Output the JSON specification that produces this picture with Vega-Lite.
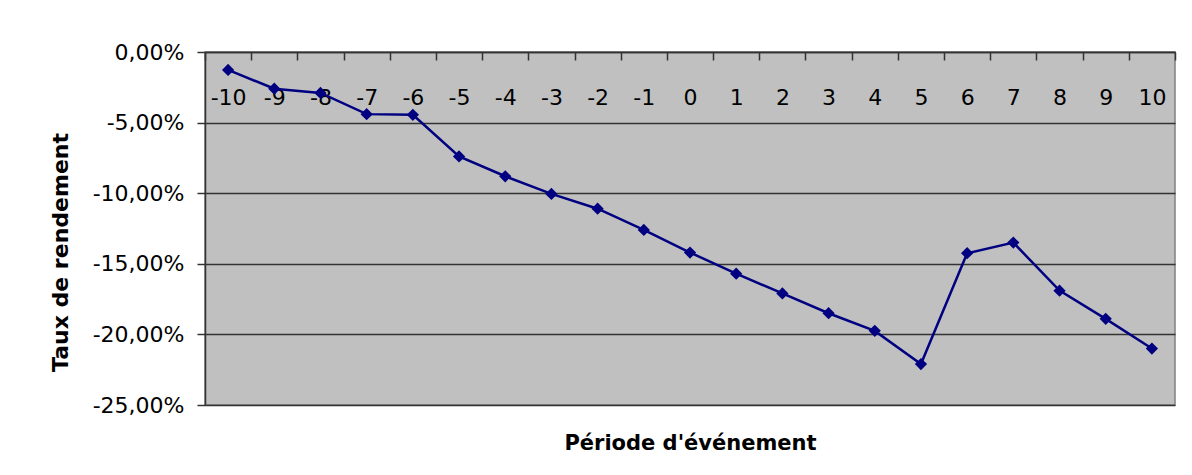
{
  "$schema": "https://vega.github.io/schema/vega-lite/v6.json",
  "width": 970,
  "height": 353,
  "autosize": {"type": "none"},
  "padding": {"left": 205, "top": 52, "right": 17, "bottom": 70},
  "background": "white",
  "config": {
    "font": "DejaVu Sans",
    "view": {"fill": "#c0c0c0", "stroke": "#808080", "strokeWidth": 1.5}
  },
  "data": {
    "values": [
      {"periode": "-10", "taux": -0.0127},
      {"periode": "-9", "taux": -0.026},
      {"periode": "-8", "taux": -0.029},
      {"periode": "-7", "taux": -0.044},
      {"periode": "-6", "taux": -0.0445},
      {"periode": "-5", "taux": -0.074},
      {"periode": "-4", "taux": -0.088},
      {"periode": "-3", "taux": -0.1005},
      {"periode": "-2", "taux": -0.111},
      {"periode": "-1", "taux": -0.126},
      {"periode": "0", "taux": -0.142},
      {"periode": "1", "taux": -0.157},
      {"periode": "2", "taux": -0.171},
      {"periode": "3", "taux": -0.185},
      {"periode": "4", "taux": -0.1975},
      {"periode": "5", "taux": -0.221},
      {"periode": "6", "taux": -0.1425},
      {"periode": "7", "taux": -0.135},
      {"periode": "8", "taux": -0.169},
      {"periode": "9", "taux": -0.189},
      {"periode": "10", "taux": -0.21}
    ]
  },
  "encoding": {
    "x": {
      "field": "periode",
      "type": "ordinal",
      "sort": null,
      "scale": {"type": "band", "paddingInner": 0, "paddingOuter": 0},
      "axis": {
        "orient": "top",
        "title": "Période d'événement",
        "titleFont": "DejaVu Sans",
        "titleFontSize": 21,
        "titleFontWeight": "bold",
        "titleColor": "black",
        "titleBaseline": "alphabetic",
        "titleY": 397,
        "labelAngle": 0,
        "labelFontSize": 22,
        "labelColor": "black",
        "labelPadding": -49,
        "tickBand": "extent",
        "tickSize": -8,
        "tickColor": "#333333",
        "tickWidth": 1.5,
        "domainColor": "#333333",
        "domainWidth": 1.5,
        "grid": false
      }
    },
    "y": {
      "field": "taux",
      "type": "quantitative",
      "scale": {"domain": [-0.25, 0], "nice": false, "zero": false},
      "axis": {
        "title": "Taux de rendement",
        "titleFontSize": 22,
        "titleFontWeight": "bold",
        "titleColor": "black",
        "titleX": -145,
        "titleY": 200,
        "titleAngle": -90,
        "titleBaseline": "middle",
        "values": [0, -0.05, -0.1, -0.15, -0.2, -0.25],
        "labelExpr": "replace(replace(format(datum.value, '.2%'), '.', ','), '\u2212', '-')",
        "labelFontSize": 22,
        "labelColor": "black",
        "labelPadding": 13,
        "tickSize": 8,
        "tickColor": "#333333",
        "tickWidth": 1.5,
        "domainColor": "#333333",
        "domainWidth": 1.5,
        "grid": true,
        "gridColor": "#333333",
        "gridWidth": 1.5
      }
    }
  },
  "layer": [
    {"mark": {"type": "line", "color": "#000080", "strokeWidth": 2.5}},
    {"mark": {"type": "point", "shape": "diamond", "filled": true, "size": 150, "color": "#000080", "opacity": 1}}
  ]
}
